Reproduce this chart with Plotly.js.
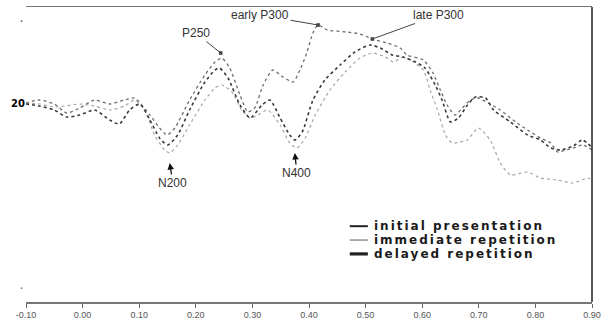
<!DOCTYPE html>
<html><head><meta charset="utf-8">
<script src="https://cdn.plot.ly/plotly-3.0.1.min.js"></script>
<style>
html,body{margin:0;padding:0;background:#fff}#chart{width:604px;height:322px}
g.annotation[data-index="5"] text, g.annotation[data-index="6"] text, g.annotation[data-index="7"] text{letter-spacing:2px}
</style>
</head><body><div id="chart"></div>
<script>
// ---- data (time in s, amplitude in arbitrary units) ----
const seriesNames = ['initial presentation', 'immediate repetition', 'delayed repetition'];

const timeInitial = [-0.100,-0.076,-0.050,-0.028,-0.005,0.021,0.048,0.074,0.092,0.119,0.136,0.149,0.163,0.189,0.216,0.234,0.246,0.260,0.278,0.292,0.304,0.319,0.336,0.354,0.372,0.384,0.396,0.407,0.416,0.432,0.467,0.490,0.512,0.538,0.561,0.573,0.602,0.619,0.632,0.644,0.658,0.671,0.685,0.699,0.720,0.738,0.765,0.786,0.809,0.827,0.839,0.853,0.867,0.883,0.901];
const valuesInitial = [0.2,0.5,0.1,-0.8,-0.3,0.5,0.1,0.5,0.7,-1.0,-2.3,-3.0,-2.3,0.5,3.0,4.3,4.7,3.7,1.0,-0.7,-0.3,2.0,3.5,2.8,2.3,3.5,5.2,7.2,8.0,7.5,7.3,7.1,6.6,6.2,5.7,5.0,4.5,3.2,1.5,0.0,-1.0,-0.3,0.5,0.7,0.1,-0.5,-1.7,-2.5,-3.3,-3.8,-4.7,-4.5,-4.3,-4.0,-4.5];

const timeImmediate = [-0.100,-0.076,-0.050,-0.032,-0.005,0.021,0.048,0.074,0.092,0.110,0.127,0.145,0.154,0.168,0.189,0.216,0.234,0.246,0.264,0.281,0.296,0.310,0.327,0.349,0.366,0.379,0.393,0.411,0.437,0.464,0.490,0.513,0.535,0.549,0.566,0.584,0.602,0.614,0.627,0.641,0.653,0.667,0.680,0.699,0.720,0.738,0.756,0.786,0.809,0.839,0.867,0.892,0.901];
const valuesImmediate = [0.2,0.1,-0.2,-0.1,0.1,-0.1,-0.5,-0.1,0.5,-0.5,-3.0,-4.5,-4.8,-4.0,-2.0,0.5,1.7,2.0,1.3,-0.5,-1.3,-1.0,-0.5,-2.0,-3.8,-4.3,-3.3,-1.0,1.5,3.3,4.7,5.2,4.8,4.3,4.8,4.3,3.5,1.5,-0.5,-3.0,-3.8,-3.7,-3.5,-2.3,-3.5,-5.8,-7.0,-6.7,-7.3,-7.5,-7.8,-7.3,-7.5];

const timeDelayed = [-0.100,-0.076,-0.050,-0.028,-0.005,0.021,0.048,0.065,0.083,0.101,0.119,0.136,0.150,0.168,0.189,0.216,0.234,0.242,0.257,0.278,0.296,0.317,0.331,0.349,0.366,0.375,0.388,0.407,0.428,0.455,0.481,0.508,0.526,0.547,0.566,0.588,0.605,0.623,0.635,0.650,0.664,0.680,0.694,0.712,0.726,0.756,0.786,0.809,0.827,0.844,0.867,0.883,0.901];
const valuesDelayed = [0.1,-0.1,-0.5,-1.2,-1.0,-0.5,-1.5,-1.9,-0.5,0.1,-1.5,-3.3,-4.0,-3.0,-0.5,2.3,3.5,3.7,2.7,0.0,-1.3,0.0,0.5,-1.3,-3.0,-3.5,-2.7,0.5,2.5,4.0,5.3,6.0,5.7,5.0,4.8,4.3,3.7,2.0,0.5,-1.7,-1.3,0.0,0.8,0.7,-0.5,-1.7,-3.0,-3.5,-4.3,-4.5,-4.1,-3.5,-4.3];

const tickValues = [-0.1,0.0,0.1,0.2,0.3,0.4,0.5,0.6,0.7,0.8,0.9];
const tickLabels = ['-0.10','0.00','0.10','0.20','0.30','0.40','0.50','0.60','0.70','0.80','0.90'];
const yTickValues = [0.2];
const yTickLabels = ['20'];

const componentNames = ['P250', 'early P300', 'late P300', 'N200', 'N400'];
const componentTimes = [0.244, 0.416, 0.512, 0.154, 0.375];
const componentValues = [5.2, 8.0, 6.6, -5.8, -4.8];

// ---- styles ----
const lineColors = ['#6e6e6e', '#a6a6a6', '#3a3a3a'];
const lineWidths = [1.3, 1.2, 1.6];
const legendWidths = [2, 1.2, 3.2];

const xs = [timeInitial, timeImmediate, timeDelayed];
const ys = [valuesInitial, valuesImmediate, valuesDelayed];

const traces = seriesNames.map((n, i) => ({
  type: 'scatter', mode: 'lines', name: n,
  x: xs[i], y: ys[i],
  line: {color: lineColors[i], width: lineWidths[i], dash: 'dot', shape: 'spline', smoothing: 0.6},
  showlegend: false, hoverinfo: 'skip'
}));

const offsets = [[-25, -20], [-58, -10], [66, -24], [3, 20], [2, 20]];
const heads = [7, 7, 7, 2, 2];
const annFont = {family: 'Liberation Sans, Arial, sans-serif', size: 12, color: '#333'};
const annotations = componentNames.map((n, i) => ({
  x: componentTimes[i], y: componentValues[i], xref: 'x', yref: 'y',
  text: n, showarrow: true, ax: offsets[i][0], ay: offsets[i][1],
  arrowhead: heads[i], arrowsize: i < 3 ? 0.9 : 1, arrowwidth: i < 3 ? 1 : 1.3,
  arrowcolor: i < 3 ? '#444' : '#111', font: annFont
}));

// legend as text + sample lines
const legendY = [0.257, 0.210, 0.163];
const shapes = [];
seriesNames.forEach((n, i) => {
  annotations.push({
    xref: 'paper', yref: 'paper', x: 0.611, y: legendY[i], xanchor: 'left', yanchor: 'middle',
    xshift: n.length,
    text: '<b>' + n + '</b>', showarrow: false,
    font: {family: 'DejaVu Sans, sans-serif', size: 12, color: '#1a1a1a'}
  });
  shapes.push({type: 'line', xref: 'paper', yref: 'paper', x0: 0.572, x1: 0.604, y0: legendY[i], y1: legendY[i],
    line: {color: i === 1 ? '#777' : '#222', width: legendWidths[i]}});
});
// right frame line
shapes.push({type: 'line', xref: 'paper', yref: 'paper', x0: 1, x1: 1, y0: 0, y1: 1, line: {color: '#222', width: 1.5}});

// faint stray y-axis marks
annotations.push({xref: 'paper', yref: 'paper', x: -0.014, y: 0.985, text: '·', showarrow: false, font: {size: 12, color: '#444'}});
annotations.push({xref: 'paper', yref: 'paper', x: -0.014, y: 0.01, text: '·', showarrow: false, font: {size: 12, color: '#666'}});

const layout = {
  width: 604, height: 322,
  margin: {l: 26, r: 12, t: 7, b: 20},
  paper_bgcolor: '#fff', plot_bgcolor: '#fff',
  showlegend: false,
  xaxis: {
    range: [-0.1, 0.9], tickvals: tickValues, ticktext: tickLabels,
    showgrid: false, zeroline: false, showline: true, linecolor: '#777', linewidth: 1.5,
    mirror: true, ticks: 'outside', ticklen: 4, tickcolor: '#666', tickwidth: 1,
    tickfont: {family: 'Liberation Sans, Arial, sans-serif', size: 9, color: '#555'}
  },
  yaxis: {
    range: [-19.7, 9.8], tickvals: yTickValues, ticktext: yTickLabels,
    showgrid: false, zeroline: false, showline: false, ticks: '',
    tickfont: {family: 'DejaVu Sans, sans-serif', size: 10, color: '#000', weight: 'bold'}
  },
  annotations: annotations,
  shapes: shapes
};

Plotly.newPlot('chart', traces, layout, {staticPlot: true, displayModeBar: false});
</script>
</body></html>
